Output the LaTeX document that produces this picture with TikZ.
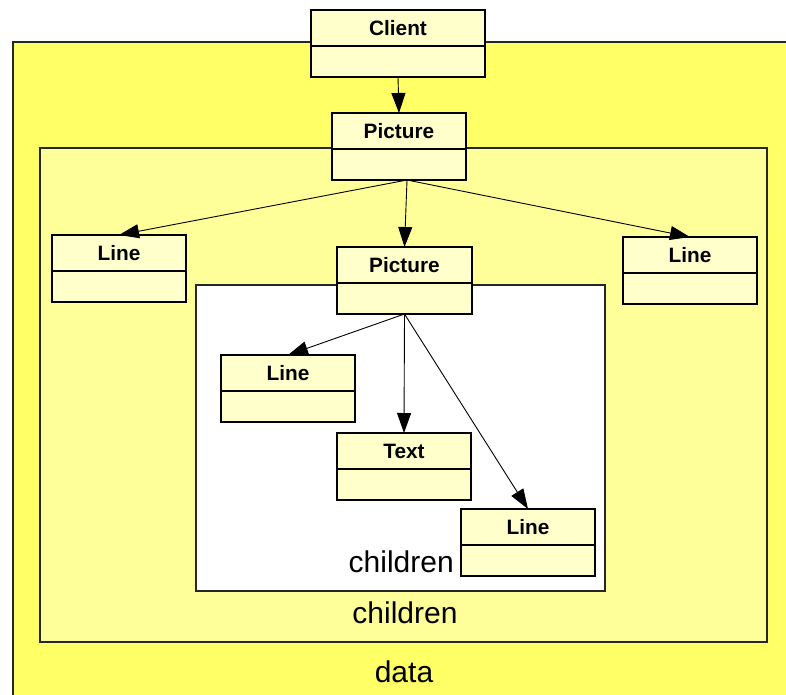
\documentclass[tikz,border=0pt]{standalone}
\usepackage{fontspec}
\setmainfont{Liberation Sans}
\usetikzlibrary{arrows.meta}
\definecolor{dataFill}{HTML}{FFFF66}
\definecolor{childFill}{HTML}{FFFF99}
\definecolor{classFill}{HTML}{FFFFCC}
\tikzset{
  classhdr/.style={draw, fill=classFill, line width=1.5pt, inner sep=0pt, outer sep=0pt,
    minimum height=36pt, text height=15pt, text depth=0pt,
    font=\fontsize{20.8}{25}\selectfont\bfseries},
  classbody/.style={draw, fill=classFill, line width=1.5pt, inner sep=0pt, outer sep=0pt,
    minimum height=31pt},
  frame/.style={draw=black!85, line width=1.5pt},
  lbl/.style={font=\fontsize{30}{36}\selectfont, inner sep=0pt},
  assoc/.style={draw, line width=0.9pt, -{Triangle[length=20pt,width=14pt]}}
}
% class box: name, left, top, width, title
\newcommand\umlclass[5]{%
  \node[classhdr, minimum width=#4pt, anchor=north west] (#1) at (#2,#3) {#5};
  \node[classbody, minimum width=#4pt, anchor=north] (#1b) at (#1.south) {};
}
\begin{document}
\begin{tikzpicture}[x=1pt,y=-1pt]
  \useasboundingbox (0,0) rectangle (786,694);
  \clip (0,0) rectangle (786,694);

  % nested containers
  \path[frame, fill=dataFill] (13,42) rectangle (830,730);
  \path[frame, fill=childFill] (40,148) rectangle (767,642);
  \path[frame, fill=white] (196,285) rectangle (605,591);

  % container labels
  \node[lbl, anchor=base] (datalbl) at (404,682) {data};
  \node[lbl, anchor=base] (childlblA) at (405,623) {children};
  \node[lbl, anchor=base east] (childlblB) at (454,572) {children};

  % classes
  \umlclass{client}{311}{10}{174}{Client}
  \umlclass{picA}{332}{113}{134}{Picture}
  \umlclass{lineA}{52}{235}{134}{Line}
  \umlclass{picB}{337}{247}{135}{Picture}
  \umlclass{lineB}{623}{237}{134}{Line}
  \umlclass{lineC}{221}{355}{134}{Line}
  \umlclass{text}{337}{433}{134}{Text}
  \umlclass{lineD}{461}{509}{134}{Line}

  % associations
  \coordinate (picAout) at ([xshift=8pt]picAb.south);
  \draw[assoc] (clientb.south) -- (picA.north);
  \draw[assoc] (picAout) -- (lineA.north);
  \draw[assoc] (picAout) -- (picB.north);
  \draw[assoc] (picAout) -- (lineB.north);
  \draw[assoc] (picBb.south) -- (lineC.north);
  \draw[assoc] (picBb.south) -- (text.north);
  \draw[assoc] (picBb.south) -- (lineD.north);
\end{tikzpicture}
\end{document}
